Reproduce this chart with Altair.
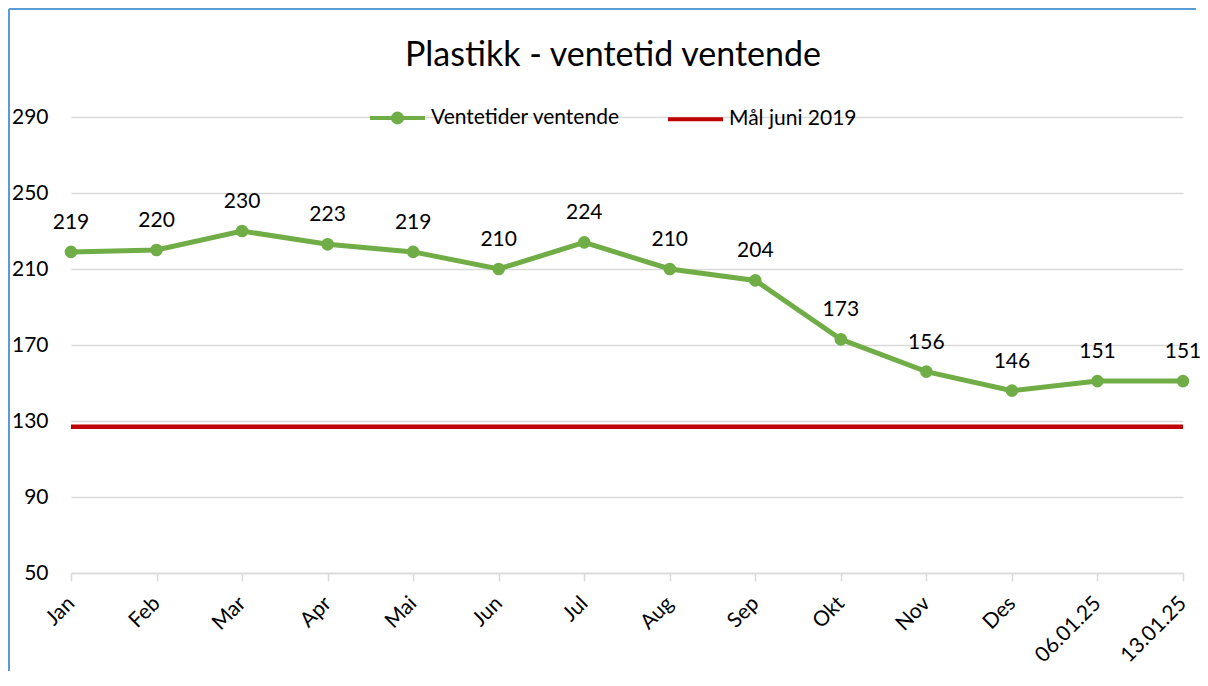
import altair as alt
import pandas as pd

# ---- data ----
periods = ["Jan", "Feb", "Mar", "Apr", "Mai", "Jun", "Jul", "Aug", "Sep", "Okt",
           "Nov", "Des", "06.01.25", "13.01.25"]
waiting = [219, 220, 230, 223, 219, 210, 224, 210, 204, 173, 156, 146, 151, 151]
target_value = 127
series_names = ["Ventetider ventende", "Mål juni 2019"]
y_tick_values = [50, 90, 130, 170, 210, 250, 290]

GREEN = "#70AD47"
RED = "#C00000"
FONT = "Lato"

df = pd.DataFrame({"periode": periods, "verdi": waiting, "serie": series_names[0]})
tgt = pd.DataFrame({"periode": [periods[0], periods[-1]],
                    "verdi": [target_value, target_value],
                    "serie": series_names[1]})
legend_df = pd.DataFrame({"serie": series_names})
frame_df = pd.DataFrame({"k": [0]})

x_enc = alt.X("periode:N", sort=periods, title=None,
              scale=alt.Scale(type="point", padding=0),
              axis=alt.Axis(labelAngle=-45, labelAlign="right", labelBaseline="middle",
                            labelPadding=19, labelFontSize=21, labelColor="#000000",
                            labelFont=FONT, grid=False, domainColor="#d9d9d9",
                            domainWidth=1.5, tickColor="#d9d9d9", tickWidth=1.5,
                            tickSize=8))
y_enc = alt.Y("verdi:Q", title=None,
              scale=alt.Scale(domain=[50, 290], nice=False, zero=False),
              axis=alt.Axis(values=y_tick_values, ticks=False, domain=False,
                            labelPadding=23, labelFontSize=21, labelColor="#000000",
                            labelFont=FONT, gridColor="#d9d9d9", gridWidth=1.5))

target_line = alt.Chart(tgt).mark_line(strokeWidth=4.5, color=RED).encode(x=x_enc, y=y_enc)
main_line = alt.Chart(df).mark_line(strokeWidth=5, color=GREEN).encode(x=x_enc, y=y_enc)
main_pts = alt.Chart(df).mark_point(filled=True, size=160, opacity=1, color=GREEN).encode(x=x_enc, y=y_enc)
labels = alt.Chart(df).mark_text(dy=-23, baseline="alphabetic", fontSize=21,
                                 font=FONT, color="#000000").encode(
    x=x_enc, y=y_enc, text=alt.Text("verdi:Q"))

green_sym = ("M-1,0L1,0"
             "M0.164,0A0.164,0.164,0,1,1,-0.164,0A0.164,0.164,0,1,1,0.164,0"
             "M0.073,0A0.073,0.073,0,1,1,-0.073,0A0.073,0.073,0,1,1,0.073,0")
red_sym = "M-1,0L1,0"

legend_layer = alt.Chart(legend_df).transform_filter("false").mark_point(
    filled=False, strokeWidth=4, opacity=1).encode(
    color=alt.Color("serie:N",
                    scale=alt.Scale(domain=series_names, range=[GREEN, RED]),
                    legend=alt.Legend(title=None, orient="none", direction="horizontal",
                                      legendX=297, legendY=-29, padding=0,
                                      symbolSize=3025, symbolStrokeWidth=4,
                                      labelFontSize=21, labelFont=FONT,
                                      labelColor="#000000", labelOffset=4,
                                      labelLimit=0, columnPadding=40)),
    shape=alt.Shape("serie:N",
                    scale=alt.Scale(domain=series_names, range=[green_sym, red_sym])),
)

frame_left = alt.Chart(frame_df).mark_rule(color="#5B9BD5", strokeWidth=2).encode(
    x=alt.value(-62), y=alt.value(-108), y2=alt.value(560))
frame_top = alt.Chart(frame_df).mark_rule(color="#5B9BD5", strokeWidth=2).encode(
    x=alt.value(-62), x2=alt.value(1125), y=alt.value(-108))

chart = alt.layer(target_line, main_line, main_pts, labels, legend_layer,
                  frame_left, frame_top).properties(
    width=1112, height=456,
    title=alt.TitleParams("Plastikk - ventetid ventende", fontSize=34, font=FONT,
                          fontWeight="normal", color="#000000", anchor="middle",
                          baseline="alphabetic", dx=-14, offset=-92),
    autosize=alt.AutoSizeParams(type="none"),
    padding={"left": 63, "top": 109, "right": 17, "bottom": 98},
).configure_view(stroke=None)

chart.save("out.html", embed_options={"renderer": "svg", "actions": False})
